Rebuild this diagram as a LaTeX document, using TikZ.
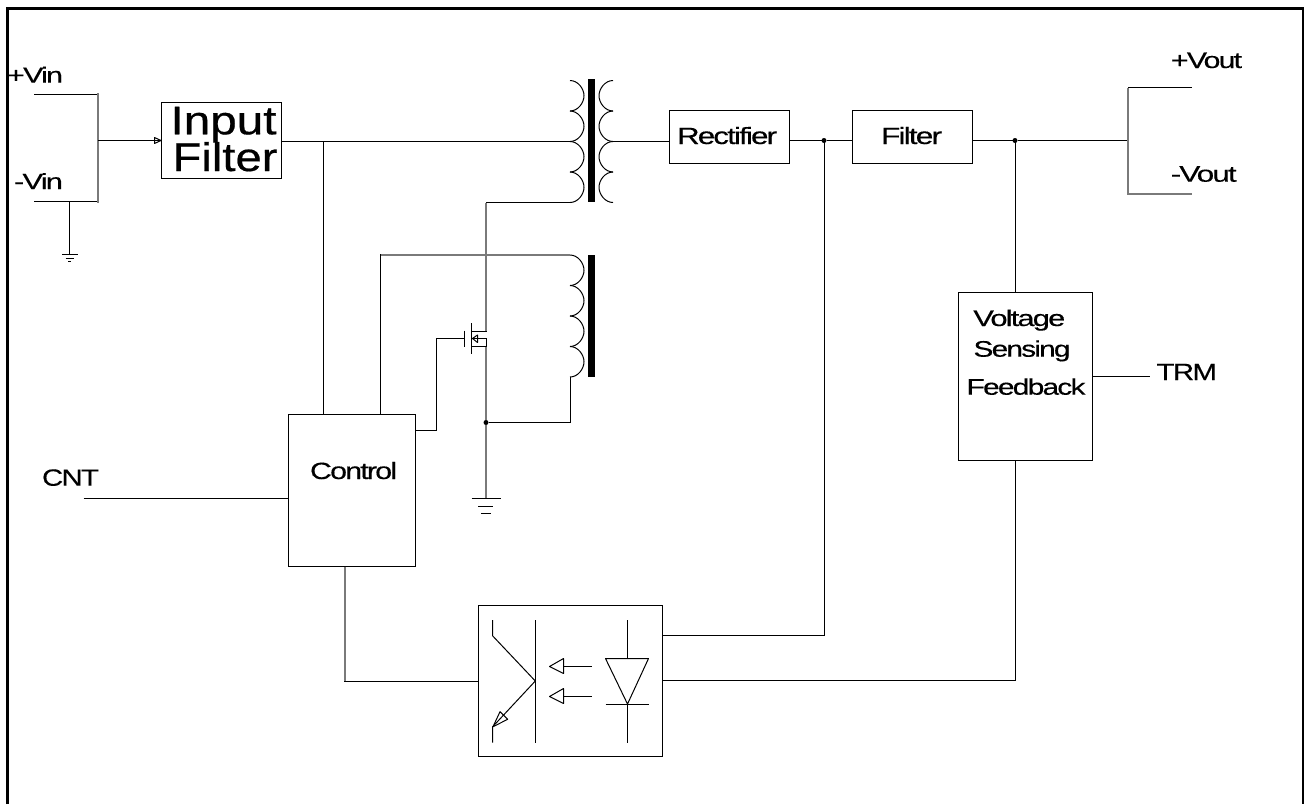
\documentclass[tikz,border=0pt]{standalone}
\usepackage{fontspec}
\usepackage{graphicx}
\setmainfont{Liberation Sans}
\newfontfamily\tightfont[LetterSpace=-6,FakeBold=0.25]{Liberation Sans}
\newfontfamily\bigfont[FakeBold=0.5]{Liberation Sans}
% label: font size, total width, text (stretched horizontally only)
\newcommand{\lbltext}[3]{\resizebox{#2pt}{\height}{\tightfont\fontsize{#1pt}{#1pt}\selectfont #3}}
\newcommand{\biglbl}[3]{\resizebox{#2pt}{\height}{\bigfont\fontsize{#1pt}{#1pt}\selectfont #3}}
\tikzset{
  wire/.style={line width=1pt,line cap=butt,line join=miter},
  softwire/.style={line width=2pt,color=black!52,line cap=butt,line join=miter},
  blockbox/.style={draw,line width=1pt,rectangle,inner sep=0pt,outer sep=0pt},
  txt/.style={inner sep=0pt,outer sep=0pt,anchor=base west},
  junction/.style={circle,fill=black,inner sep=0pt,outer sep=0pt,minimum size=5pt},
  core/.style={fill=black,draw=none},
  frameline/.style={line width=3pt,line cap=butt,line join=miter}
}
\newcommand{\blk}[5]{%
  \pgfmathsetmacro{\bw}{#4-#2}\pgfmathsetmacro{\bh}{#5-#3}%
  \pgfmathsetmacro{\bx}{(#4+#2)/2}\pgfmathsetmacro{\by}{(#5+#3)/2}%
  \node[blockbox,minimum width=\bw pt,minimum height=\bh pt] (#1) at (\bx,\by) {};}
% coil of four bumps: base x, top y, bump height, direction (+1 or -1)
\newcommand{\coilbumps}[4]{%
  \begin{scope}[shift={(#1,#2)},xscale=#4]
    \foreach \k in {0,1,2,3}{
      \pgfmathsetmacro{\ya}{\k*#3}\pgfmathsetmacro{\yb}{\ya+0.27*#3}%
      \pgfmathsetmacro{\yc}{\ya+0.5*#3}\pgfmathsetmacro{\yd}{\ya+0.73*#3}\pgfmathsetmacro{\ye}{\ya+#3}%
      \draw[wire] (0,\ya) .. controls (8,\ya) and (14,\yb) .. (14,\yc) .. controls (14,\yd) and (8,\ye) .. (0,\ye);
    }
  \end{scope}}
\begin{document}
\begin{tikzpicture}[x=1pt,y=-1pt]
\useasboundingbox (0,0) rectangle (1304,804);
\coordinate (fa) at (7.5,804); \coordinate (fb) at (7.5,8.5);
\coordinate (fc) at (1303,8.5); \coordinate (fd) at (1303,804);
\draw[frameline] (fa) -- (fb) -- (fc) -- (fd);

% blocks
\blk{infilt}{161.5}{102.5}{281.5}{178.5}
\blk{rect}{669.5}{110.5}{789.5}{163.5}
\blk{filt}{852.5}{110.5}{972.5}{163.5}
\blk{ctrl}{288.5}{414.5}{415.5}{566.5}
\blk{fbk}{958.5}{292.5}{1092.5}{460.5}
\blk{opto}{478.5}{605.5}{662.5}{756.5}

% labels
\node[txt] (tpv) at (7,82.7) {\lbltext{22}{56}{+Vin}};
\node[txt] (tmv) at (14,189) {\lbltext{22}{49}{-Vin}};
\node[txt] (tin) at (170.5,134.3) {\biglbl{40}{106}{Input}};
\node[txt] (tfi) at (172.5,171) {\biglbl{40}{105}{Filter}};
\node[txt] (trec) at (677,144) {\lbltext{23.5}{100}{Rectifier}};
\node[txt] (tflt) at (881,144) {\lbltext{23.5}{61}{Filter}};
\node[txt] (tpo) at (1171,68) {\lbltext{22.5}{71}{+Vout}};
\node[txt] (tmo) at (1170.7,181.7) {\lbltext{22.5}{66}{-Vout}};
\node[txt] (tvo) at (973.3,326) {\lbltext{22.5}{92}{Voltage}};
\node[txt] (tse) at (973.5,356.7) {\lbltext{22.5}{97}{Sensing}};
\node[txt] (tfe) at (966.5,394.7) {\lbltext{22.5}{119}{Feedback}};
\node[txt] (ttr) at (1156.5,380) {\lbltext{23.5}{60.5}{TRM}};
\node[txt] (tcnt) at (42,485.7) {\lbltext{23.5}{57}{CNT}};
\node[txt] (tct) at (310,479) {\lbltext{23.5}{87}{Control}};

% input side
\coordinate (vp) at (34,94.5); \coordinate (vm) at (34,201.5);
\coordinate (vc) at (98,140.5); \coordinate (vg) at (69.5,201.5);
\coordinate (g1) at (69.5,254.5);
\draw[wire] (vp) -- (vp -| vc) (vm -| vc) -- (vm);
\draw[softwire] (97,94) -- (98,94) -- (98,202) -- (97,202);
\draw[wire] (vc) -- (vc -| infilt.west);
\draw[wire,line join=round] (154.5,137.5) -- (161,140.5) -- (154.5,143.5) -- cycle;
\draw[wire] (vg) -- (g1);
\draw[wire] (62,254.5) -- (77.5,254.5) (65.5,258.5) -- (73.5,258.5) (68,261.5) -- (71,261.5);

% transformer
\coilbumps{570}{80.5}{30.5}{1}
\coilbumps{613}{80.5}{30.5}{-1}
\fill[core] (588,79) rectangle (595,202);
\coordinate (pmid) at (570,141.5); \coordinate (pbot) at (570,202.5);
\coordinate (smid) at (613,141.5);
\coordinate (sw) at (486,202.5);
\draw[wire] (infilt.east |- pmid) -- (pmid);
\draw[wire] (smid) -- (rect.west |- smid);
\draw[wire] (pbot) -- (sw);

% second winding
\coilbumps{570}{255}{30.5}{1}
\fill[core] (588,254.5) rectangle (595,377);
\coordinate (wt) at (570,255); \coordinate (wb) at (570.5,377);
\coordinate (tapa) at (323.5,141.5); \coordinate (tapb) at (380.5,255);

% control connections
\draw[wire] (tapa) -- (tapa |- ctrl.north);
\draw[softwire] (wt) -- (tapb);
\draw[wire] (380.5,254) -- (380.5,414.5);

% MOSFET
\coordinate (dr) at (486,331.5); \coordinate (so) at (486,346.5);
\coordinate (gb) at (464.5,338.5); \coordinate (gc) at (436.5,338.5);
\coordinate (gd) at (436.5,430.5);
\draw[softwire] (sw) -- (dr);
\draw[wire] (486.5,331.5) -- (471.5,331.5);
\draw[wire] (471.5,323) -- (471.5,353.5);
\draw[wire] (464.5,330.5) -- (464.5,347);
\draw[wire] (471.5,346.5) -- (486.5,346.5);
\draw[wire] (471.5,338.5) -- (486.5,338.5) -- (486.5,346.5);
\draw[wire,line join=round] (472.5,338.5) -- (477.5,335) -- (477.5,342.5) -- cycle;
\draw[wire] (gb) -- (gc) -- (gd) -- (ctrl.east |- gd);

% source to ground
\node[junction] (j0) at (486,422.5) {};
\coordinate (g2) at (486,498);
\draw[softwire] (so) -- (j0) -- (g2);
\draw[wire] (j0) -- (wb |- j0) -- (wb);
\draw[wire] (471.5,498.5) -- (500.5,498.5) (478,506.5) -- (493,506.5) (481,513.5) -- (491,513.5);

% CNT
\coordinate (cn) at (83.5,498.5);
\draw[wire] (cn) -- (ctrl.west |- cn);

% output side
\node[junction] (j1) at (824,140.5) {};
\node[junction] (j2) at (1015,140.5) {};
\coordinate (oc) at (1128,140.5);
\coordinate (op) at (1191.5,87.5); \coordinate (om) at (1191.5,194);
\coordinate (otop) at (1128,87.5); \coordinate (obot) at (1128,194);
\draw[wire] (rect.east |- j1) -- (j1) -- (filt.west |- j1);
\draw[wire] (filt.east |- j2) -- (j2) -- (oc);
\draw[wire] (op) -- (otop);
\draw[softwire] (otop) -- (obot) -- (om);
\draw[wire] (1015.5,140.5) -- (1015.5,292.5);

% feedback
\coordinate (trm) at (1149.5,376.5);
\draw[wire] (fbk.east |- trm) -- (trm);
\coordinate (ou) at (824.5,635.5); \coordinate (ol) at (1015.5,680.5);
\draw[wire] (824.5,140.5) -- (ou) -- (opto.east |- ou);
\draw[wire] (1015.5,460.5) -- (ol) -- (opto.east |- ol);

% control to opto
\coordinate (cb) at (345,681.5);
\draw[softwire] (cb |- ctrl.south) -- (cb);
\draw[wire] (344,681.5) -- (opto.west |- cb);

% opto internals
\draw[wire] (535.5,620) -- (535.5,742.5);
\draw[wire] (492.5,620) -- (492.5,635.7) -- (535.3,681) -- (492.7,726.7) -- (492.5,742.5);
\draw[wire,line join=round] (493,726.7) -- (500,711.7) -- (507.7,719.3) -- cycle;
\draw[wire] (591.5,666.5) -- (563.5,666.5);
\draw[wire,line join=round] (549.5,666.5) -- (563.5,658.5) -- (563.5,673.5) -- cycle;
\draw[wire] (591.5,696.5) -- (563.5,696.5);
\draw[wire,line join=round] (549.5,696.5) -- (563.5,688.5) -- (563.5,703.5) -- cycle;
\draw[wire] (627.5,620) -- (627.5,658.5);
\draw[wire,line join=round] (605.5,658.5) -- (648.5,658.5) -- (627.5,704) -- cycle;
\draw[wire] (605.5,704.5) -- (648.5,704.5);
\draw[wire] (627.5,704) -- (627.5,742.5);
\end{tikzpicture}
\end{document}
